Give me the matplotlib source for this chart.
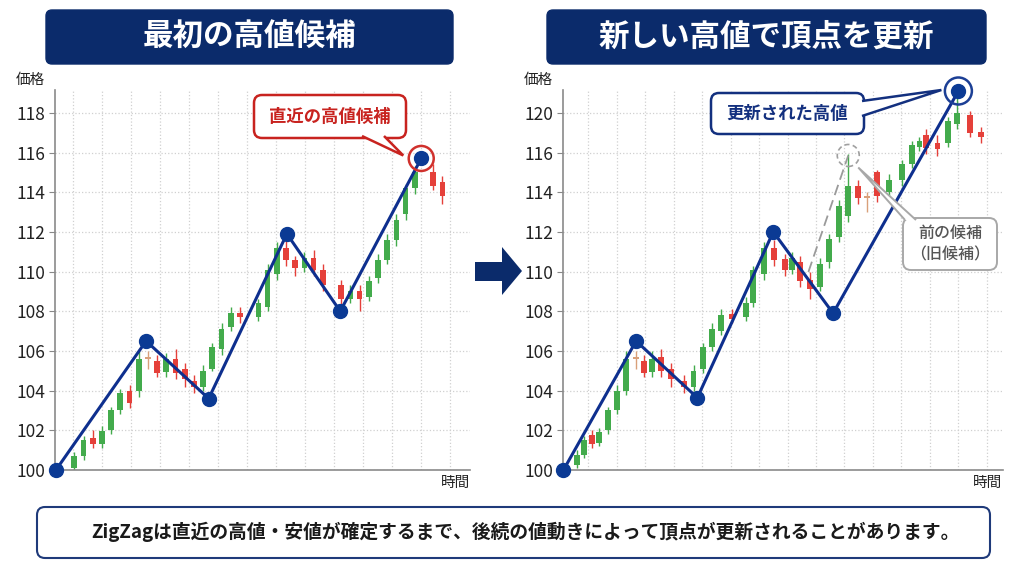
import matplotlib
matplotlib.use("Agg")
import matplotlib.pyplot as plt
from matplotlib.patches import FancyBboxPatch, Polygon, Circle
from matplotlib.transforms import IdentityTransform

plt.rcParams['font.family'] = ['Noto Sans CJK JP', 'DejaVu Sans']

# ---- data: left chart (first high candidate) ----
left_t = [2, 3, 4, 5, 6, 7, 8, 9, 10, 11, 12, 13, 14, 15, 16, 17, 18, 19, 20,
          22, 23, 24, 25, 26, 27, 28, 29, 31, 32, 33, 34, 35, 36, 37, 38, 39, 41, 42]
left_open = [100.1, 100.7, 101.6, 101.3, 102.0, 103.0, 104.0, 104.0, 105.7, 105.5, 104.95, 105.6, 105.1, 104.5, 104.2, 105.1, 106.1, 107.2, 107.9,
             107.7, 108.2, 109.9, 111.2, 110.6, 110.2, 110.7, 110.1, 109.3, 108.6, 109.0, 108.7, 109.7, 110.6, 111.6, 112.9, 114.2, 115.0, 114.5]
left_high = [100.9, 101.7, 102.0, 102.2, 103.2, 104.1, 104.3, 106.0, 106.0, 105.8, 105.9, 106.1, 105.4, 104.8, 105.3, 106.4, 107.4, 108.2, 108.2,
             108.6, 110.4, 111.5, 111.6, 110.8, 111.0, 111.1, 110.4, 109.6, 109.3, 109.3, 109.8, 110.9, 111.9, 112.9, 114.4, 115.3, 115.4, 114.8]
left_low = [100.0, 100.5, 101.1, 101.1, 101.8, 102.8, 103.1, 103.7, 105.1, 104.7, 104.7, 104.6, 104.2, 103.9, 104.0, 105.0, 105.8, 107.0, 107.4,
            107.5, 108.0, 109.6, 110.3, 109.8, 110.0, 109.8, 109.0, 108.3, 108.4, 108.0, 108.5, 109.4, 110.4, 111.3, 112.6, 113.9, 114.1, 113.4]
left_close = [100.7, 101.5, 101.3, 101.95, 103.0, 103.9, 103.4, 105.6, 105.6, 104.9, 105.6, 104.9, 104.6, 104.2, 105.0, 106.2, 107.1, 107.9, 107.7,
              108.4, 110.1, 111.2, 110.6, 110.2, 110.7, 110.1, 109.3, 108.6, 109.0, 108.6, 109.5, 110.6, 111.6, 112.6, 114.2, 115.0, 114.3, 113.8]
left_pivot_t = [0, 9.8, 16.6, 25.1, 30.9, 39.7]
left_pivot_p = [100.0, 106.5, 103.6, 111.9, 108.0, 115.7]

# ---- data: right chart (high updated) ----
right_t = [1.4, 2.2, 3.0, 3.7, 4.7, 5.6, 6.6, 7.6, 8.5, 9.3, 10.3, 11.3, 12.7, 13.7, 14.7, 15.6, 16.6, 17.7,
           19.2, 20.0, 21.1, 22.2, 23.3, 24.1, 24.9, 26.0, 27.0, 28.0, 29.0, 30.0, 31.0, 32.0, 33.0,
           34.3, 35.7, 36.7, 37.5, 38.2, 39.4, 40.5, 41.5, 42.8, 44.0]
right_open = [100.25, 100.75, 101.75, 101.35, 102.0, 103.0, 104.0, 105.7, 105.5, 104.95, 105.7, 105.1, 104.5, 104.2, 105.1, 106.2, 107.0, 107.85,
              107.7, 108.4, 109.9, 111.2, 110.65, 110.1, 110.5, 109.6, 109.2, 110.5, 111.75, 112.8, 114.3, 113.8, 115.0,
              114.0, 114.6, 115.4, 116.3, 116.9, 116.5, 116.5, 117.45, 117.9, 117.05]
right_high = [101.0, 101.7, 102.0, 102.1, 103.2, 104.3, 106.0, 106.0, 105.8, 106.0, 106.1, 105.4, 104.8, 105.3, 106.4, 107.4, 108.1, 108.1,
              108.7, 110.3, 111.5, 111.6, 110.9, 111.0, 110.8, 110.0, 110.7, 111.9, 113.6, 115.9, 114.6, 114.0, 115.1,
              114.9, 115.6, 116.6, 116.8, 117.2, 116.9, 117.8, 118.8, 118.1, 117.3]
right_low = [100.1, 100.6, 101.1, 101.2, 101.8, 102.8, 103.8, 105.1, 104.7, 104.7, 104.7, 104.2, 103.9, 104.0, 104.9, 106.0, 106.8, 107.4,
             107.5, 108.2, 109.6, 110.3, 109.8, 109.9, 109.2, 108.6, 109.0, 110.2, 111.5, 112.5, 113.4, 113.0, 113.5,
             113.8, 114.3, 115.2, 116.1, 115.9, 115.8, 116.3, 117.2, 116.8, 116.5]
right_close = [100.75, 101.5, 101.3, 101.9, 103.0, 104.0, 105.6, 105.6, 104.9, 105.6, 105.0, 104.6, 104.2, 105.0, 106.2, 107.1, 107.8, 107.6,
               108.4, 110.1, 111.2, 110.6, 110.1, 110.7, 109.5, 109.1, 110.4, 111.65, 113.3, 114.3, 113.7, 113.7, 113.8,
               114.6, 115.4, 116.4, 116.6, 116.25, 116.2, 117.6, 118.0, 117.0, 116.8]
right_pivot_t = [0, 7.65, 14.1, 22.1, 28.4, 41.6]
right_pivot_p = [100.0, 106.5, 103.64, 112.0, 107.9, 119.1]
old_leg_t = [25.8, 30.0]
old_leg_p = [109.98, 115.85]

y_ticks = [100, 102, 104, 106, 108, 110, 112, 114, 116, 118]
left_tick_labels = ['100', '102', '104', '106', '108', '110', '112', '114', '116', '118']
right_tick_labels = ['100', '102', '104', '106', '108', '110', '112', '114', '116', '120']

titles = ['最初の高値候補', '新しい高値で頂点を更新']
note = 'ZigZagは直近の高値・安値が確定するまで、後続の値動きによって頂点が更新されることがあります。'

NAVY = '#0b2b6b'
LINE = '#0e2f8e'
DOT = '#0b3a94'
UP = '#43ab4c'
DOWN = '#e5403a'
DOJI = '#d9a07a'

W, H = 1024, 576
fig = plt.figure(figsize=(W / 100, H / 100), dpi=100)
fig.patch.set_facecolor('white')
ident = IdentityTransform()


def pbox(x0, y0, x1, y1, fc, ec, lw, r):
    # rounded box given in image pixels (top-left origin)
    p = FancyBboxPatch((x0, H - y1), x1 - x0, y1 - y0,
                       boxstyle=f'round,pad=0,rounding_size={r}',
                       fc=fc, ec=ec, lw=lw, transform=ident, zorder=10)
    fig.add_artist(p)
    return p


def draw_candles(ax, t, o, h, l, c):
    for ti, oi, hi, li, ci in zip(t, o, h, l, c):
        if abs(ci - oi) < 0.15:
            col = DOJI
        elif ci > oi:
            col = UP
        else:
            col = DOWN
        ax.vlines(ti, li, hi, color=col, lw=1.0, zorder=2)
        ax.bar(ti, max(abs(ci - oi), 0.08), bottom=min(oi, ci), width=0.62,
               color=col, zorder=3)


def style_axes(ax, labels, xlim, grid_x):
    ax.set_xlim(*xlim)
    ax.set_ylim(100, 119.15)
    ax.set_yticks(y_ticks)
    ax.set_yticklabels(labels, fontsize=12.5, color='#222222')
    ax.set_xticks(grid_x)
    ax.set_xticklabels([])
    ax.tick_params(axis='x', length=0)
    ax.tick_params(axis='y', length=4, color='#888888', pad=3)
    ax.grid(True, color='#d0d0d0', ls=':', lw=0.9)
    ax.set_axisbelow(True)
    for s in ['top', 'right']:
        ax.spines[s].set_visible(False)
    for s in ['left', 'bottom']:
        ax.spines[s].set_color('#8a8a8a')
        ax.spines[s].set_linewidth(1.2)


axL = fig.add_axes([55 / W, 1 - 470 / H, 415 / W, 380 / H])
axR = fig.add_axes([563 / W, 1 - 470 / H, 440 / W, 380 / H])

style_axes(axL, left_tick_labels, (-0.1, 45), [1.85 + 3.15 * k for k in range(14)])
style_axes(axR, right_tick_labels, (-0.05, 46.3), [2.6 + 3.0 * k for k in range(15)])

draw_candles(axL, left_t, left_open, left_high, left_low, left_close)
draw_candles(axR, right_t, right_open, right_high, right_low, right_close)

axL.plot(left_pivot_t, left_pivot_p, color=LINE, lw=2.2, zorder=5, clip_on=False)
axL.plot(left_pivot_t, left_pivot_p, 'o', color=DOT, ms=10, zorder=6, clip_on=False)
axR.plot(old_leg_t, old_leg_p, color='#9a9a9a', lw=1.3, ls=(0, (6, 3)), zorder=4)
axR.plot(right_pivot_t, right_pivot_p, color=LINE, lw=2.2, zorder=5, clip_on=False)
axR.plot(right_pivot_t, right_pivot_p, 'o', color=DOT, ms=10, zorder=6, clip_on=False)

# axis captions
for x, y in [(30, 80), (538, 80)]:
    fig.text(x / W, 1 - y / H, '価格', ha='center', va='center', fontsize=10.5, color='#222222')
for x, y in [(456, 483), (988, 483)]:
    fig.text(x / W, 1 - y / H, '時間', ha='center', va='center', fontsize=10.5, color='#222222')

# title banners
for (x0, x1), title in zip([(46, 453), (547, 986)], titles):
    pbox(x0, 10, x1, 64, NAVY, NAVY, 1, 6)
    fig.text((x0 + x1) / 2 / W, 1 - 37 / H, title, ha='center', va='center',
             fontsize=22, fontweight='bold', color='white', zorder=11)

# arrow between panels
arrow = Polygon([(475, H - 262), (502, H - 262), (502, H - 247), (522, H - 271),
                 (502, H - 295), (502, H - 281), (475, H - 281)],
                closed=True, fc=NAVY, ec='none', transform=ident, zorder=10)
fig.add_artist(arrow)


def callout(x0, y0, x1, y1, base, tip, text, color, fs, ec=None, lw=1.8, weight='bold'):
    ec = ec or color
    pbox(x0, y0, x1, y1, 'white', ec, lw, 8)
    tail = Polygon([base[0], tip, base[1]], closed=False, fc='white', ec=ec,
                   lw=lw, transform=ident, zorder=11)
    fig.add_artist(tail)
    fig.text((x0 + x1) / 2 / W, 1 - (y0 + y1) / 2 / H, text, ha='center', va='center',
             fontsize=fs, fontweight=weight, color=color, zorder=12, linespacing=1.3)


# left: recent high candidate
lx, ly = axL.transData.transform((left_pivot_t[-1], left_pivot_p[-1]))
fig.add_artist(Circle((lx, ly), 12.5, fc='none', ec='#d0312d', lw=1.8, transform=ident, zorder=12))
callout(254, 95, 406, 138, [(362, H - 136), (384, H - 136)], (lx - 18, ly + 3),
        '直近の高値候補', '#c8231f', 12.5)

# right: updated high
rx, ry = axR.transData.transform((right_pivot_t[-1], right_pivot_p[-1]))
fig.add_artist(Circle((rx, ry), 13.5, fc='none', ec='#1c3f95', lw=1.8, transform=ident, zorder=12))
callout(711, 93, 864, 134, [(862, H - 101), (862, H - 116)], (rx - 17, ry + 1),
        '更新された高値', '#13307f', 12.5)

# right: previous candidate
ox, oy = axR.transData.transform((old_leg_t[-1], old_leg_p[-1]))
fig.add_artist(Circle((ox, oy), 11, fc='none', ec='#a0a0a0', lw=1.2, ls=(0, (3, 2)),
                      transform=ident, zorder=12))
callout(903, 218, 997, 270, [(905, H - 220), (916, H - 220)], (ox + 10, oy - 12),
        '前の候補\n（旧候補）', '#555555', 11.5, ec='#a8a8a8', lw=1.4, weight='medium')

# bottom note
pbox(37, 507, 990, 558, 'white', '#1f3a7a', 1.5, 8)
fig.text(525 / W, 1 - 532 / H, note, ha='center', va='center', fontsize=13.5,
         fontweight='bold', color='#1a1a1a', zorder=11)

fig.savefig('out.png', dpi=100, facecolor='white')
